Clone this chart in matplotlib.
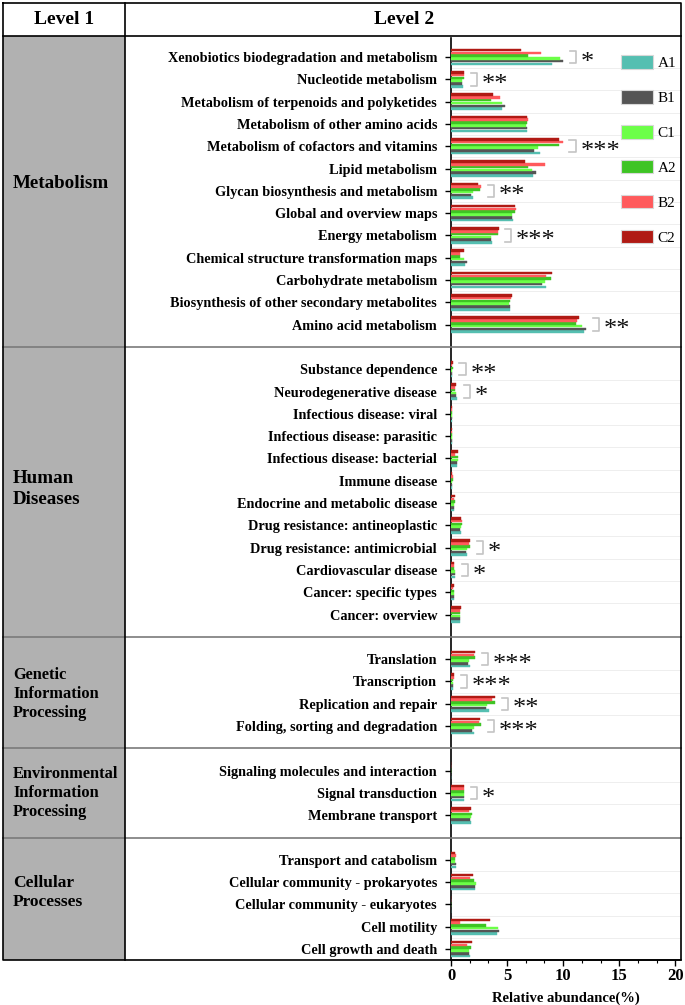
#!/usr/bin/env python3
"""KEGG level-1 / level-2 relative abundance table chart (A1..C2)."""

import matplotlib.pyplot as plt
from matplotlib.lines import Line2D
from matplotlib.patches import Patch, Rectangle
from matplotlib.ticker import MultipleLocator
from matplotlib.transforms import blended_transform_factory

W, H = 685, 1005

LEVEL1 = [
    "Metabolism",
    "Human\nDiseases",
    "Genetic\nInformation\nProcessing",
    "Environmental\nInformation\nProcessing",
    "Cellular\nProcesses",
]

METABOLISM = [
    "Xenobiotics biodegradation and metabolism",
    "Nucleotide metabolism",
    "Metabolism of terpenoids and polyketides",
    "Metabolism of other amino acids",
    "Metabolism of cofactors and vitamins",
    "Lipid metabolism",
    "Glycan biosynthesis and metabolism",
    "Global and overview maps",
    "Energy metabolism",
    "Chemical structure transformation maps",
    "Carbohydrate metabolism",
    "Biosynthesis of other secondary metabolites",
    "Amino acid metabolism",
]
HUMAN_DISEASES = [
    "Substance dependence",
    "Neurodegenerative disease",
    "Infectious disease: viral",
    "Infectious disease: parasitic",
    "Infectious disease: bacterial",
    "Immune disease",
    "Endocrine and metabolic disease",
    "Drug resistance: antineoplastic",
    "Drug resistance: antimicrobial",
    "Cardiovascular disease",
    "Cancer: specific types",
    "Cancer: overview",
]
GENETIC = [
    "Translation",
    "Transcription",
    "Replication and repair",
    "Folding, sorting and degradation",
]
ENVIRONMENTAL = [
    "Signaling molecules and interaction",
    "Signal transduction",
    "Membrane transport",
]
CELLULAR = [
    "Transport and catabolism",
    "Cellular community - prokaryotes",
    "Cellular community - eukaryotes",
    "Cell motility",
    "Cell growth and death",
]
LEVEL2 = [METABOLISM, HUMAN_DISEASES, GENETIC, ENVIRONMENTAL, CELLULAR]

SAMPLES = ["A1", "B1", "C1", "A2", "B2", "C2"]
COLORS = ["#55bfb1", "#555555", "#6cff48", "#3ec424", "#ff5a5c", "#b01a14"]

# relative abundance (%), same order as the level-2 lists above (top to bottom)
A1 = [9.03, 1.06, 4.51, 6.74, 7.90, 7.28, 1.98, 5.49, 3.68, 1.27, 8.44, 5.28, 11.89,
      0.05, 0.52, 0.08, 0.08, 0.55, 0.12, 0.31, 0.85, 1.45, 0.34, 0.28, 0.82,
      1.68, 0.19, 3.38, 2.07,
      0.02, 1.20, 1.74,
      0.46, 2.10, 0.02, 4.10, 1.65]
B1 = [9.98, 1.00, 4.81, 6.77, 7.40, 7.60, 1.80, 5.46, 3.59, 1.45, 8.08, 5.22, 12.07,
      0.05, 0.49, 0.10, 0.08, 0.52, 0.12, 0.31, 0.82, 1.35, 0.37, 0.26, 0.82,
      1.50, 0.16, 3.14, 1.89,
      0.02, 1.15, 1.65,
      0.46, 2.10, 0.02, 4.24, 1.59]
C1 = [9.75, 1.00, 4.51, 6.71, 7.75, 7.25, 1.95, 5.46, 3.59, 1.15, 8.35, 5.13, 11.71,
      0.10, 0.46, 0.08, 0.10, 0.61, 0.12, 0.31, 0.88, 1.45, 0.37, 0.28, 0.82,
      1.56, 0.16, 3.23, 2.01,
      0.02, 1.20, 1.80,
      0.40, 2.25, 0.02, 4.18, 1.59]
A2 = [6.86, 1.20, 3.59, 6.74, 9.60, 6.86, 2.55, 5.67, 4.21, 0.82, 8.94, 5.28, 11.14,
      0.15, 0.37, 0.10, 0.10, 0.64, 0.15, 0.37, 0.94, 1.71, 0.31, 0.28, 0.76,
      2.13, 0.22, 3.94, 2.66,
      0.02, 1.20, 1.89,
      0.34, 2.01, 0.02, 3.08, 1.80]
B2 = [8.05, 1.15, 4.39, 6.89, 9.96, 8.38, 2.70, 5.82, 4.21, 0.82, 8.44, 5.34, 11.26,
      0.10, 0.34, 0.08, 0.08, 0.40, 0.15, 0.28, 1.00, 1.56, 0.25, 0.22, 0.82,
      2.04, 0.25, 3.65, 2.54,
      0.02, 1.15, 1.56,
      0.46, 1.65, 0.02, 0.76, 1.42]
C2 = [6.27, 1.20, 3.73, 6.80, 9.60, 6.62, 2.40, 5.67, 4.24, 1.12, 8.97, 5.43, 11.41,
      0.15, 0.43, 0.13, 0.12, 0.64, 0.13, 0.37, 0.91, 1.65, 0.31, 0.31, 0.85,
      2.10, 0.25, 3.88, 2.60,
      0.02, 1.20, 1.80,
      0.34, 1.95, 0.02, 3.44, 1.89]
VALUES = [A1, B1, C1, A2, B2, C2]

SIGNIFICANCE = {
    "Xenobiotics biodegradation and metabolism": "*",
    "Nucleotide metabolism": "**",
    "Metabolism of cofactors and vitamins": "***",
    "Glycan biosynthesis and metabolism": "**",
    "Energy metabolism": "***",
    "Amino acid metabolism": "**",
    "Substance dependence": "**",
    "Neurodegenerative disease": "*",
    "Drug resistance: antimicrobial": "*",
    "Cardiovascular disease": "*",
    "Translation": "***",
    "Transcription": "***",
    "Replication and repair": "**",
    "Folding, sorting and degradation": "***",
    "Signal transduction": "*",
}

FONT = "Liberation Serif"
BAR_H = 0.125
# level-1 label styling: font size and vertical nudge (in rows)
L1_SIZE = [13.7, 13.7, 11.8, 11.8, 12.5]
L1_NUDGE = [-0.35, -0.13, 0.06, 0.0, -0.54]


def fx(px):
    return px / W


def fy(py):
    return 1 - py / H


def slot_positions():
    pos, sections, seps = [], [], []
    slot = 0
    for k, group in enumerate(LEVEL2):
        start = slot
        for _ in group:
            pos.append(slot)
            slot += 1
        sections.append((start, slot - 1))
        if k < len(LEVEL2) - 1:
            seps.append(slot)
            slot += 1
    return pos, sections, seps


def main():
    plt.rcParams["font.family"] = [FONT, "DejaVu Sans"]
    fig = plt.figure(figsize=(W / 100, H / 100), dpi=100)

    ax = fig.add_axes([fx(451), fy(960), fx(681) - fx(451), fy(38) - fy(960)])
    labels = [name for group in LEVEL2 for name in group]
    pos, sections, seps = slot_positions()

    # grey level-1 column + table frame
    fig.patches.append(Rectangle((fx(3), fy(960)), fx(125) - fx(3), fy(36) - fy(960),
                                 transform=fig.transFigure, facecolor="#b1b1b1",
                                 edgecolor="none", zorder=0))
    frame = dict(transform=fig.transFigure, color="black", lw=1.2, zorder=5)
    fig.lines += [
        Line2D([fx(3), fx(681), fx(681), fx(3), fx(3)],
               [fy(3), fy(3), fy(960), fy(960), fy(3)], **frame),
        Line2D([fx(3), fx(681)], [fy(36), fy(36)], **frame),
        Line2D([fx(125), fx(125)], [fy(3), fy(960)], **frame),
    ]
    fig.text(fx(64), fy(19), "Level 1", ha="center", va="center",
             fontsize=14, fontweight="bold")
    fig.text(fx(404), fy(19), "Level 2", ha="center", va="center",
             fontsize=14, fontweight="bold")

    # bars, drawn bottom (A1) to top (C2) inside each group
    for j, (name, vals, color) in enumerate(zip(SAMPLES, VALUES, COLORS)):
        ys = [p + (2.5 - j) * BAR_H for p in pos]
        ax.barh(ys, vals, height=BAR_H * 0.92, color=color, label=name,
                edgecolor=color, linewidth=0.3, zorder=3)

    # faint row separators
    for (a, b) in sections:
        for i in range(a, b):
            ax.axhline(i + 0.5, color="#eeeeee", lw=0.7, zorder=1)

    # section separators across the whole table
    blend = blended_transform_factory(fig.transFigure, ax.transData)
    for s in seps:
        fig.lines.append(Line2D([fx(3), fx(681)], [s, s], transform=blend,
                                color="#7a7a7a", lw=1.2, zorder=4))

    # level-1 labels
    for text, (a, b), size, nudge in zip(LEVEL1, sections, L1_SIZE, L1_NUDGE):
        fig.text(fx(13), (a + b) / 2 + nudge, text, transform=blend, ha="left",
                 va="center", fontsize=size, fontweight="bold", linespacing=1.25)

    # significance brackets and stars
    for label, stars in SIGNIFICANCE.items():
        i = labels.index(label)
        y = pos[i]
        top = max(v[i] for v in VALUES)
        x0 = top + 0.6
        x1 = x0 + 0.55
        ax.plot([x0, x1, x1, x0], [y - 0.28, y - 0.28, y + 0.28, y + 0.28],
                color="#c4c4c4", lw=1.2, zorder=3, clip_on=False)
        ax.text(x1 + 0.42, y + 0.52, stars, ha="left", va="baseline",
                fontsize=19, color="#111111")

    ax.set_xlim(0, 20.5)
    ax.set_ylim(40.49, -0.852)
    ax.set_yticks(pos)
    ax.set_yticklabels(labels, fontsize=10.3, fontweight="bold")
    ax.tick_params(axis="y", length=4, width=1, pad=6)
    ax.xaxis.set_major_locator(MultipleLocator(5))
    ax.xaxis.set_minor_locator(MultipleLocator(5 / 3))
    ax.tick_params(axis="x", which="major", length=4, width=1, pad=1.5, labelsize=12)
    ax.tick_params(axis="x", which="minor", length=2.5, width=0.8)
    for t in ax.get_xticklabels():
        t.set_fontweight("bold")
    ax.set_xlabel("Relative abundance(%)", fontsize=10.5, fontweight="bold", labelpad=6)
    for side in ("top", "right"):
        ax.spines[side].set_visible(False)
    ax.spines["left"].set_linewidth(1.2)
    ax.spines["bottom"].set_linewidth(1.2)
    ax.set_facecolor("none")

    handles = [Patch(facecolor=c, edgecolor="#d8d8d8", linewidth=0.8) for c in COLORS]
    fig.legend(handles, SAMPLES, loc="upper left", bbox_to_anchor=(fx(621), fy(55)),
               frameon=False, fontsize=11, handlelength=2.1, handleheight=1.0,
               labelspacing=1.3, borderpad=0, handletextpad=0.3, borderaxespad=0)

    fig.savefig("out.png", dpi=100)
    plt.close(fig)


if __name__ == "__main__":
    main()
